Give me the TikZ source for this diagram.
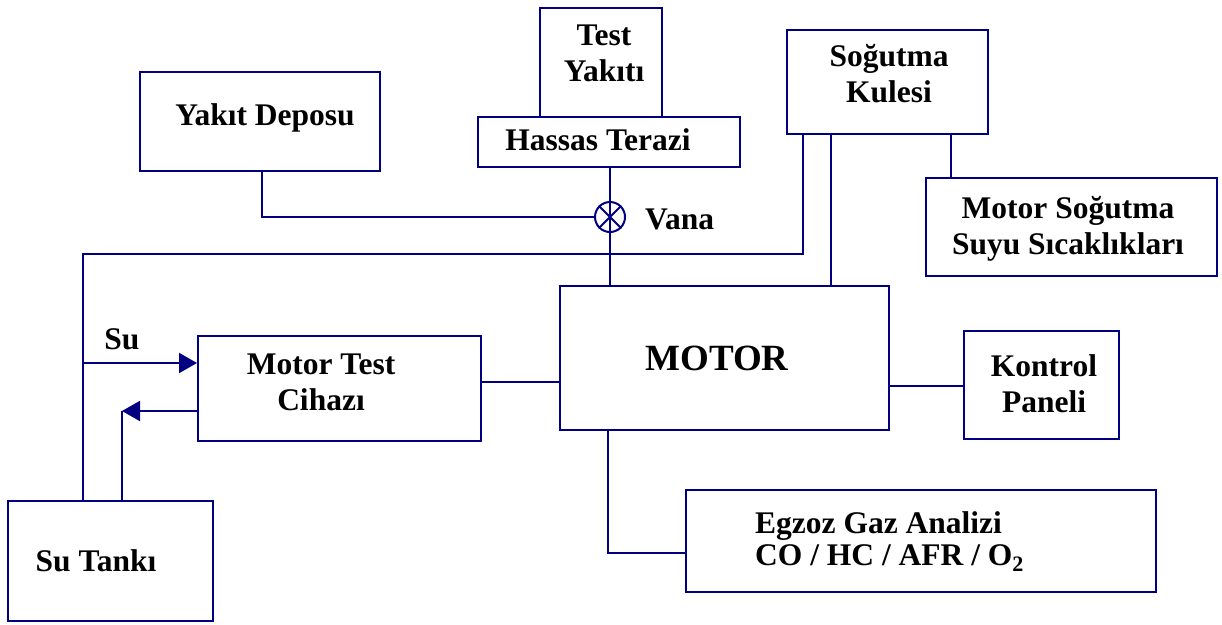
\documentclass[tikz,border=0pt]{standalone}
\usepackage{fontspec}
\setmainfont{Liberation Serif}
\usetikzlibrary{arrows.meta}
\definecolor{wirecol}{RGB}{0,0,128}
\begin{document}
\begin{tikzpicture}[x=1pt,y=-1pt,
  wire/.style={draw=wirecol, line width=2pt},
  box/.style={draw=wirecol, line width=2pt, rectangle, inner sep=0pt},
  txt/.style={font=\bfseries\fontsize{31.5}{36}\selectfont, inner sep=0pt, align=center, text=black},
  flowtip/.style={-{Triangle[length=18pt,width=20pt]}}]

\clip (0,0) rectangle (1222,624);

% ---- boxes ----
\node[box, minimum width=122, minimum height=109] (fuel)    at (601,62.5)   {};
\node[box, minimum width=262, minimum height=50]  (scale)   at (609,142)    {};
\node[box, minimum width=240, minimum height=99]  (depot)   at (260,121)    {};
\node[box, minimum width=201, minimum height=104] (tower)   at (887.5,82)   {};
\node[box, minimum width=291, minimum height=98]  (temps)   at (1071.5,227) {};
\node[box, minimum width=329, minimum height=144] (motor)   at (724.5,358)  {};
\node[box, minimum width=283, minimum height=105] (tester)  at (339.5,388.5){};
\node[box, minimum width=155, minimum height=108] (panel)   at (1041.5,385) {};
\node[box, minimum width=470, minimum height=102] (exhaust) at (921,541)    {};
\node[box, minimum width=205, minimum height=120] (water)   at (110.5,561)  {};

% ---- texts ----
\node[txt] (t-fuel)    at (604,53.5)   {Test\\Yakıtı};
\node[txt] (t-scale)   at (598,139.5)  {Hassas Terazi};
\node[txt] (t-depot)   at (265,118)    {Yakıt Deposu};
\node[txt] (t-tower)   at (889,73.5)   {Soğutma\\Kulesi};
\node[txt] (t-temps)   at (1068,228.5) {Motor Soğutma\\Suyu Sıcaklıkları};
\node[txt] (t-tester)  at (321,382.5)  {Motor Test\\Cihazı};
\node[txt, font=\bfseries\fontsize{37}{40}\selectfont] (t-motor) at (717,358.5) {MOTOR};
\node[txt] (t-panel)   at (1044,383.5) {Kontrol\\Paneli};
\node[txt, align=left, anchor=west, font=\bfseries\fontsize{31.5}{32}\selectfont]
      (t-exhaust) at (755,542) {Egzoz Gaz Analizi\\CO / HC / AFR / O\textsubscript{2}};
\node[txt] (t-water)   at (96,561)     {Su Tankı};
\node[txt] (t-su)      at (122,339)    {Su};

% ---- valve ----
\node[circle, draw=wirecol, line width=2pt, minimum size=30, inner sep=0pt] (valve) at (610,217) {};
\draw[wire] (valve.north west) -- (valve.south east);
\draw[wire] (valve.north east) -- (valve.south west);
\node[txt, anchor=west] (t-valve) at (645,219.5) {Vana};

% ---- corner points ----
\coordinate (depotdrop) at (262,217);
\coordinate (towerdrop) at (803,254);
\coordinate (loopleft)  at (83,254);
\coordinate (inflow)    at (83,363);
\coordinate (retcorner) at (122,411);
\coordinate (exhdrop)   at (608,553);

% ---- connectors ----
\draw[wire] (scale.south -| valve) -- (valve.north);
\draw[wire] (valve.north) -- (valve.south);
\draw[wire] (valve.south) -- (motor.north -| valve);
\draw[wire] (depot.south -| depotdrop) -- (depotdrop) -- (valve.west);
\draw[wire] (tower.south -| towerdrop) -- (towerdrop) -- (loopleft) -- (water.north -| loopleft);
\draw[wire] (tower.south -| 831,0) -- (motor.north -| 831,0);
\draw[wire] (tower.south -| 951,0) -- (temps.north -| 951,0);
\draw[wire] (motor.west |- 0,382) -- (tester.east |- 0,382);
\draw[wire] (motor.east |- 0,386) -- (panel.west |- 0,386);
\draw[wire] (motor.south -| exhdrop) -- (exhdrop) -- (exhaust.west |- exhdrop);
\draw[wire, flowtip] (inflow) -- (tester.west |- inflow);
\draw[wire, flowtip] (tester.west |- retcorner) -- (retcorner);
\draw[wire] (retcorner) -- (water.north -| retcorner);
\end{tikzpicture}
\end{document}
